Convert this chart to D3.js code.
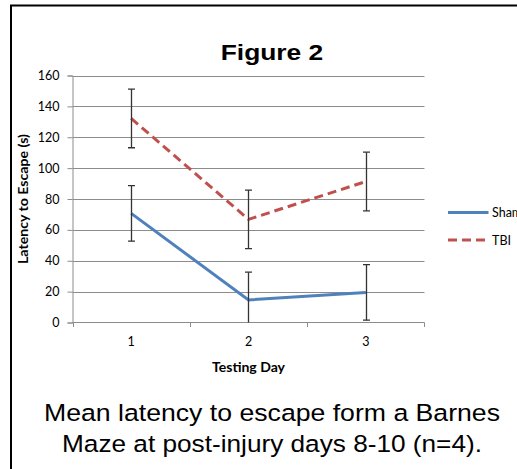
<!DOCTYPE html>
<html>
<head>
<meta charset="utf-8">
<script src="https://cdn.jsdelivr.net/npm/d3@7"></script>
<style>
html,body{margin:0;padding:0;background:#fff;overflow:hidden;}
svg{display:block;}
</style>
</head>
<body>
<script>
// ---- data ----
const days = ["1", "2", "3"];
const shamMean = [70.7, 14.6, 19.5];
const shamErr = [18, 18, 18];
const tbiMean = [132.2, 66.8, 91.3];
const tbiErr = [19, 19, 19];
const yTicks = [0, 20, 40, 60, 80, 100, 120, 140, 160];
const seriesNames = ["Sham", "TBI"];

const W = 517, H = 469;
const svg = d3.select("body").append("svg").attr("width", W).attr("height", H);

// border
svg.append("rect").attr("x", 11).attr("y", 5.5).attr("width", 1000).attr("height", 1000)
  .attr("fill", "none").attr("stroke", "#000").attr("stroke-width", 2);

const x = d3.scaleBand().domain(days).range([72.5, 424.5]).paddingInner(0).paddingOuter(0);
const y = d3.scaleLinear().domain([0, 160]).range([322.5, 75.5]);

// gridlines
svg.append("g").selectAll("line").data(yTicks.filter(d => d > 0)).join("line")
  .attr("x1", 72.5).attr("x2", 424.5)
  .attr("y1", d => Math.round(y(d)) + 0.5).attr("y2", d => Math.round(y(d)) + 0.5)
  .attr("stroke", "#8c8c8c").attr("stroke-width", 1);

// y axis
const yAxis = svg.append("g").attr("transform", "translate(72.5,0)")
  .call(d3.axisLeft(y).tickValues(yTicks).tickSize(5).tickPadding(8));
yAxis.select(".domain").attr("stroke", "#8c8c8c");
yAxis.selectAll(".tick line").attr("stroke", "#8c8c8c");
yAxis.selectAll(".tick text").attr("font-family", "Lato, 'Open Sans', sans-serif")
  .attr("font-size", 12.5).attr("fill", "#000");

// x axis
const xAxis = svg.append("g").attr("transform", "translate(0,322.5)")
  .call(d3.axisBottom(x).tickSize(0).tickPadding(0));
xAxis.select(".domain").attr("stroke", "#8c8c8c").attr("d", "M72.5,0H424.5");
xAxis.selectAll(".tick text").attr("font-family", "Lato, 'Open Sans', sans-serif")
  .attr("font-size", 12.5).attr("fill", "#000").attr("dy", 0).attr("y", 23.5);
// boundary ticks
const bounds = days.map(d => x(d)).concat([x(days[days.length - 1]) + x.bandwidth()]);
svg.append("g").selectAll("line").data(bounds).join("line")
  .attr("x1", d => Math.round(d) + 0.5).attr("x2", d => Math.round(d) + 0.5)
  .attr("y1", 322.5).attr("y2", 327)
  .attr("stroke", "#8c8c8c");

// axis titles
svg.append("text").attr("x", 248.5).attr("y", 372)
  .attr("text-anchor", "middle").attr("font-family", "Lato, 'Open Sans', sans-serif")
  .attr("font-weight", "bold").attr("font-size", 13)
  .attr("textLength", 73).attr("lengthAdjust", "spacingAndGlyphs")
  .text("Testing Day");
svg.append("text").attr("transform", "translate(28,199) rotate(-90)")
  .attr("text-anchor", "middle").attr("font-family", "Lato, 'Open Sans', sans-serif")
  .attr("font-weight", "bold").attr("font-size", 12.5)
  .attr("textLength", 130).attr("lengthAdjust", "spacingAndGlyphs")
  .text("Latency to Escape (s)");

// title
svg.append("text").attr("x", 272).attr("y", 59.5).attr("text-anchor", "middle")
  .attr("font-family", "'Liberation Sans', Arial, sans-serif").attr("font-weight", "bold")
  .attr("font-size", 22.5).attr("textLength", 102.5).attr("lengthAdjust", "spacingAndGlyphs")
  .text("Figure 2");

// caption
svg.append("text").attr("x", 272).attr("y", 421).attr("text-anchor", "middle")
  .attr("font-family", "'Liberation Sans', Arial, sans-serif")
  .attr("font-size", 24.5).attr("textLength", 456).attr("lengthAdjust", "spacingAndGlyphs")
  .text("Mean latency to escape form a Barnes");
svg.append("text").attr("x", 272).attr("y", 451.5).attr("text-anchor", "middle")
  .attr("font-family", "'Liberation Sans', Arial, sans-serif")
  .attr("font-size", 24.5).attr("textLength", 420).attr("lengthAdjust", "spacingAndGlyphs")
  .text("Maze at post-injury days 8-10 (n=4).");

// clip
svg.append("clipPath").attr("id", "plotclip").append("rect")
  .attr("x", 72).attr("y", 70).attr("width", 355).attr("height", 252.5);

const cx = d => x(d) + x.bandwidth() / 2;
const plot = svg.append("g").attr("clip-path", "url(#plotclip)");

const series = [
  { name: seriesNames[0], mean: shamMean, err: shamErr, color: "#4f81bd", dash: null },
  { name: seriesNames[1], mean: tbiMean, err: tbiErr, color: "#c0504d", dash: "9,5" }
];

const line = d3.line().x(d => cx(d.day)).y(d => y(d.v));

series.forEach(s => {
  const pts = days.map((d, i) => ({ day: d, v: s.mean[i], e: s.err[i] }));
  plot.append("path").datum(pts).attr("d", line)
    .attr("fill", "none").attr("stroke", s.color).attr("stroke-width", 3)
    .attr("stroke-dasharray", s.dash);
  const eb = plot.append("g");
  pts.forEach(p => {
    const X = Math.round(cx(p.day)) + 0.5;
    eb.append("line").attr("x1", X).attr("x2", X).attr("y1", y(p.v + p.e)).attr("y2", y(p.v - p.e))
      .attr("stroke", "#333").attr("stroke-width", 1.3);
    [p.v + p.e, p.v - p.e].forEach(v => {
      eb.append("line").attr("x1", X - 3.5).attr("x2", X + 3.5).attr("y1", y(v)).attr("y2", y(v))
        .attr("stroke", "#333").attr("stroke-width", 1.3);
    });
  });
});

// legend
const leg = svg.append("g");
series.forEach((s, i) => {
  const ly = 212.5 + i * 27.5;
  leg.append("line").attr("x1", 448).attr("x2", 488.5).attr("y1", ly).attr("y2", ly)
    .attr("stroke", s.color).attr("stroke-width", 3).attr("stroke-dasharray", s.dash);
  leg.append("text").attr("x", 492).attr("y", ly + 4.5)
    .attr("font-family", "Lato, 'Open Sans', sans-serif").attr("font-size", 12.5)
    .text(s.name);
});
</script>
</body>
</html>
